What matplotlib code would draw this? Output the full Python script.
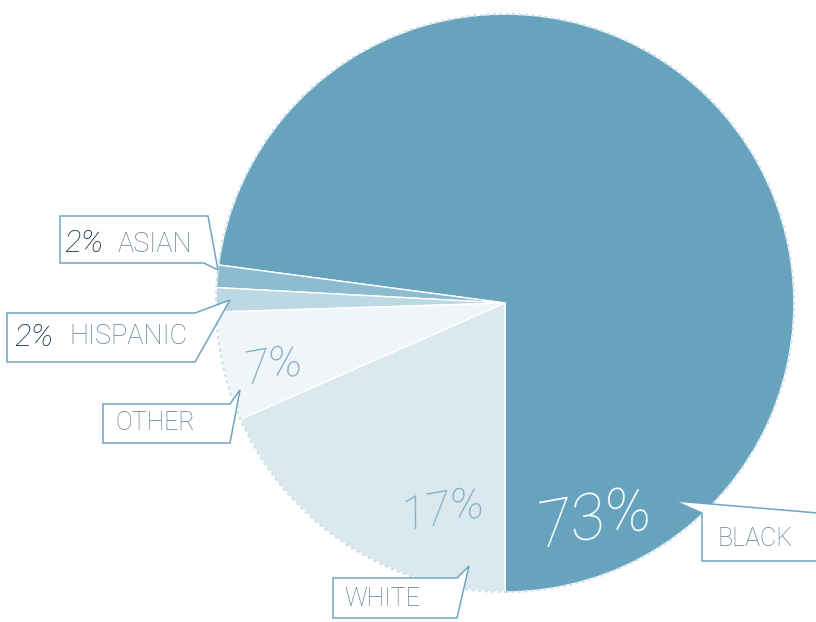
import matplotlib
matplotlib.use("Agg")
import matplotlib.pyplot as plt
from matplotlib.patches import Polygon, Circle

# slice shares as drawn (black starts at 6 o'clock, goes counter-clockwise)
groups = ["BLACK", "ASIAN", "HISPANIC", "OTHER", "WHITE"]
shares = [72.9, 1.25, 1.35, 6.1, 18.4]
pct_labels = ["73%", "2%", "2%", "7%", "17%"]
colors = ["#67a3bd", "#8dbbcf", "#bcd8e3", "#eff5f8", "#dbe8ee"]

W, H = 816, 622
edge = "#6fa6c0"
dark = "#0f2b3c"
grey = "#637f90"
FONT = ["Roboto", "DejaVu Sans"]

fig = plt.figure(figsize=(W / 100, H / 100), dpi=100)
ax = fig.add_axes([0, 0, 1, 1])


def py(y):
    # picture y (top-down) -> axes y
    return H - y


cx, cy, r = 505, 303, 289
wedges, _ = ax.pie(shares, colors=colors, startangle=-90, counterclock=True,
                   center=(cx, py(cy)), radius=r, frame=True,
                   wedgeprops=dict(edgecolor="white", linewidth=1.0))
ax.set_xlim(0, W)
ax.set_ylim(0, H)
ax.set_aspect("equal")
ax.axis("off")

# scalloped rim
ax.add_patch(Circle((cx, py(cy)), r, fill=False, edgecolor="#c9e0ea",
                    linewidth=1.5, linestyle=(0, (1.5, 1.6)), zorder=3))


def callout(pts):
    ax.add_patch(Polygon([(x, py(y)) for x, y in pts], closed=True,
                         facecolor="white", edgecolor=edge, linewidth=1.1,
                         zorder=5))


# callout boxes
callout([(60, 216), (208, 216), (218, 270), (204, 263), (60, 263)])
callout([(7, 313), (195, 313), (230, 300), (195, 362), (7, 362)])
callout([(103, 404), (230, 404), (240, 390), (230, 443), (103, 443)])
callout([(333, 578), (457, 578), (469, 566), (457, 618), (333, 618)])
callout([(675, 501), (702, 513), (702, 561), (830, 561), (830, 514)])

lab = dict(family=FONT, va="center", ha="left", zorder=6)

# labels with numbers inside the box
ax.text(64, py(243), pct_labels[1], color=dark, fontsize=22.5, style="italic",
        fontweight="light", **lab)
ax.text(118, py(244), groups[1], color=grey, fontsize=19.5, fontweight="light", **lab)
ax.text(14, py(337), pct_labels[2], color=dark, fontsize=22.5, style="italic",
        fontweight="light", **lab)
ax.text(69, py(337), groups[2], color=grey, fontsize=19.5, fontweight="light", **lab)
ax.text(115, py(423), groups[3], color=grey, fontsize=18, fontweight="light", **lab)
ax.text(344, py(599), groups[4], color=grey, fontsize=18, fontweight="light", **lab)
ax.text(718, py(539), groups[0], color=grey, fontsize=18, fontweight="light", **lab)

# big percentages on the slices
big = dict(family=FONT, fontweight=100, style="italic", ha="center",
           va="center", rotation=10, zorder=4)
ax.text(595, py(520), pct_labels[0], color="white", fontsize=47, **big)
ax.text(443, py(510), pct_labels[4], color="#76abc4", fontsize=34, **big)
ax.text(273, py(366), pct_labels[3], color="#76abc4", fontsize=34, **big)

fig.savefig("out.png", dpi=100)
